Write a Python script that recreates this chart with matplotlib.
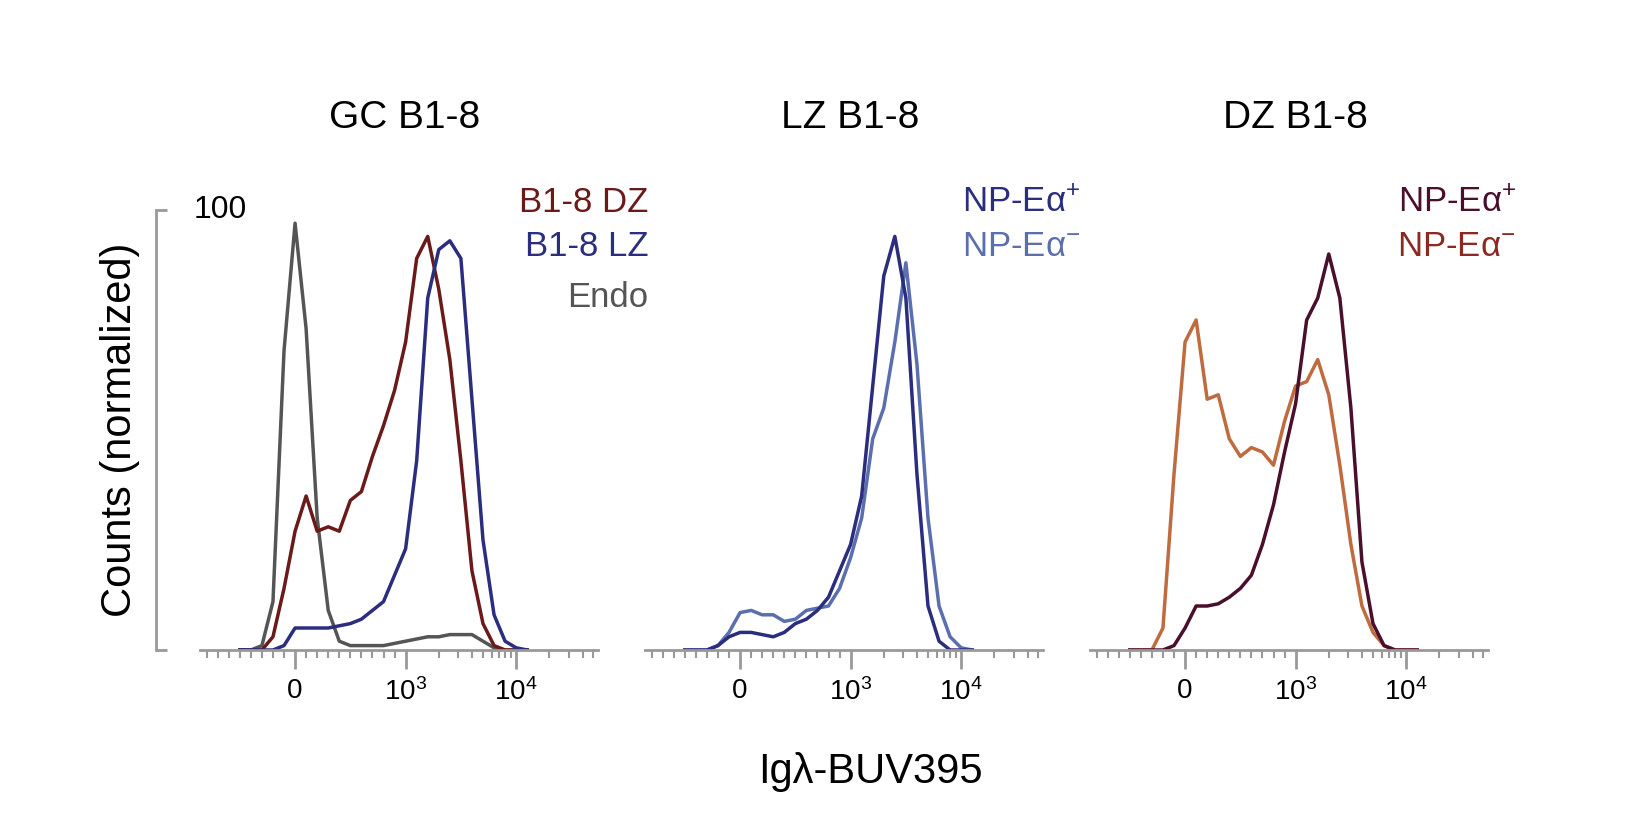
import matplotlib
matplotlib.use("Agg")
import matplotlib.pyplot as plt
import numpy as np

plt.rcParams["font.family"] = "Liberation Sans"
plt.rcParams["mathtext.fontset"] = "custom"
plt.rcParams["mathtext.rm"] = "Liberation Sans"
plt.rcParams["mathtext.it"] = "Liberation Sans"
plt.rcParams["mathtext.default"] = "regular"

# x grid (fluorescence values)
X = [-500, -400, -300, -200, -100, 0, 100, 200, 300, 400, 500, 600, 700, 800, 900,
     1000, 1259, 1585, 1995, 2512, 3162, 3981, 5012, 6310, 7943, 10000, 12589]

endo  = [0,0,1,11,68,97,73,30,9,2,1,1,1,1,1.5,2,2.5,3,3,3.5,3.5,3.5,2,0.5,0,0,0]
b18dz = [0,0,0,3,14,27,35,27,28,27,34,36,44,51,59,70,89,94,82,66,43,18,6,1,0,0,0]
b18lz = [0,0,0,0,1,5,5,5,5,5.5,6,7,9,11,17,23,43,80,91,93,89,57,25,8,2,0.5,0]

lz_pos = [0,0,0,1,3,4,4,3.5,3,4,6,7,9,12,18,24,35,60,85,94,80,40,10,2,0,0,0]
lz_neg = [0,0,0,1,4,8.5,9,8,8,6.5,7,9,9.5,10,14,21,30,48,55,70,88,65,30,10,3,0.5,0]

dz_pos = [0,0,0,0,1,5,10,10,10.5,12,14,17,24,33,45,56,75,80,90,80,55,20,6,1,0,0,0]
dz_neg = [0,0,0,5,40,70,75,57,58,48,44,46,45,42,52,60,61,66,58,42,24,10,4,1,0,0,0]

panels = [
    ("GC B1-8", [(endo, "#555555"), (b18dz, "#6b1a1a"), (b18lz, "#2b2d7e")],
     [("B1-8 DZ", "#6b1a1a"), ("B1-8 LZ", "#2b2d7e"), ("Endo", "#555555")], 1.126),
    ("LZ B1-8", [(lz_neg, "#5b6fae"), (lz_pos, "#2b2d7e")],
     [("NP-Eα$^{+}$", "#2b2d7e"), ("NP-Eα$^{-}$", "#5b6fae")], 1.093),
    ("DZ B1-8", [(dz_neg, "#c06a3f"), (dz_pos, "#4a0f2b")],
     [("NP-Eα$^{+}$", "#4a0f2b"), ("NP-Eα$^{-}$", "#8b2a25")], 1.07),
]

fig = plt.figure(figsize=(16.35, 8.21), dpi=100)
lefts = [200, 645, 1090]
minor = [v for v in range(-800, 1000, 100) if v != 0] + \
        [2000, 3000, 4000, 5000, 6000, 7000, 8000, 9000, 20000, 30000, 40000, 50000]
for i, (title, curves, leg, lx) in enumerate(panels):
    ax = fig.add_axes([lefts[i] / 1635, 1 - 650 / 821, 398 / 1635, 440 / 821])
    ax.patch.set_alpha(0)
    ax.set_xscale("symlog", linthresh=1000, linscale=0.9)
    for y, c in curves:
        ax.plot(X, y, color=c, lw=2.5)
    ax.set_xlim(-860, 55000)
    ax.set_ylim(0, 100)
    for s in ["top", "right"]:
        ax.spines[s].set_visible(False)
    ax.spines["bottom"].set_color("#999999")
    ax.spines["bottom"].set_linewidth(2)
    ax.set_xticks([0, 1000, 10000])
    ax.set_xticklabels(["0", "10$^{3}$", "10$^{4}$"], fontsize=20)
    ax.set_xticks(minor, minor=True)
    ax.tick_params(axis="x", which="major", direction="out", length=14, width=2,
                   color="#999999", pad=6)
    ax.tick_params(axis="x", which="minor", direction="out", length=6, width=1.5,
                   color="#999999")
    if i == 0:
        ax.spines["left"].set_position(("outward", 32))
        ax.spines["left"].set_color("#999999")
        ax.spines["left"].set_linewidth(2)
        ax.set_yticks([0, 100])
        ax.set_yticklabels([])
        ax.tick_params(axis="y", direction="in", length=8, width=2, color="#999999")
        ax.text(-0.015, 1.0, "100", transform=ax.transAxes, fontsize=23, va="center", ha="left")
        ax.set_ylabel("Counts (normalized)", fontsize=30, labelpad=8)
    else:
        ax.spines["left"].set_visible(False)
        ax.set_yticks([])
    ax.text(0.515, 1.21, title, transform=ax.transAxes, fontsize=28, ha="center", va="center")
    ys = [1.016, 0.916, 0.802]
    for (t, c), yy in zip(leg, ys):
        ax.text(lx, yy, t, transform=ax.transAxes, fontsize=25, color=c, ha="right", va="center")

fig.text(870 / 1635, 1 - 772 / 821, "Igλ-BUV395", fontsize=30, ha="center", va="center")
fig.savefig("out.png", dpi=100)
